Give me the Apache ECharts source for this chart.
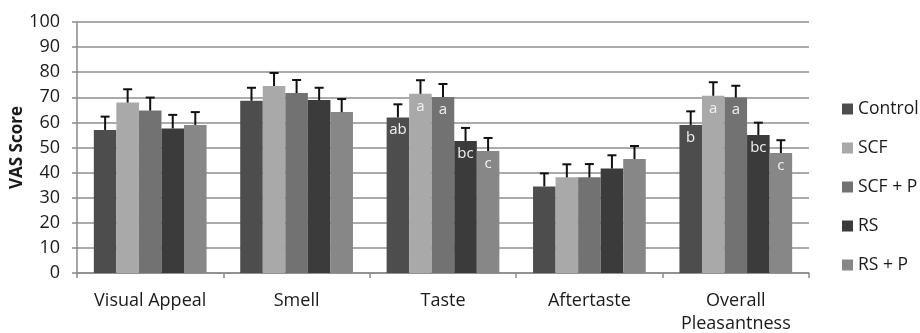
<!DOCTYPE html>
<html>
<head>
<meta charset="utf-8">
<script src="https://cdn.jsdelivr.net/npm/echarts@6/dist/echarts.min.js"></script>
<style>
  html, body { margin: 0; padding: 0; background: #fff; }
  #chart { width: 920px; height: 333px; }
</style>
</head>
<body>
<div id="chart"></div>
<script>
// Sensory attributes (x categories)
const categories = ['Visual Appeal', 'Smell', 'Taste', 'Aftertaste', 'Overall\nPleasantness'];
const seriesNames = ['Control', 'SCF', 'SCF + P', 'RS', 'RS + P'];

// Mean VAS scores per treatment
const control = [57.0, 68.6, 62.0, 34.5, 59.0];
const scf     = [67.9, 74.5, 71.4, 38.1, 70.6];
const scfP    = [64.7, 71.7, 70.1, 38.1, 69.9];
const rs      = [57.6, 68.9, 52.6, 41.6, 55.0];
const rsP     = [59.0, 64.1, 48.6, 45.4, 47.8];

// Error (upper whisker length) per treatment
const controlErr = [5.3, 5.2, 5.2, 5.2, 5.4];
const scfErr     = [5.3, 5.2, 5.4, 5.2, 5.4];
const scfPErr    = [5.2, 5.2, 5.2, 5.3, 4.7];
const rsErr      = [5.4, 4.9, 5.2, 5.3, 4.9];
const rsPErr     = [5.1, 5.2, 5.2, 5.2, 5.1];

// Significance letters shown inside bars
const controlLetters = ['', '', 'ab', '', 'b'];
const scfLetters     = ['', '', 'a', '', 'a'];
const scfPLetters    = ['', '', 'a', '', 'a'];
const rsLetters      = ['', '', 'bc', '', 'bc'];
const rsPLetters     = ['', '', 'c', '', 'c'];

// Y axis ticks
const yMin = 0, yMax = 100, yStep = 10;

const values = [control, scf, scfP, rs, rsP];
const errors = [controlErr, scfErr, scfPErr, rsErr, rsPErr];
const letters = [controlLetters, scfLetters, scfPLetters, rsLetters, rsPLetters];
const colors = ['#4d4d4d', '#a9a9a9', '#727272', '#3b3b3b', '#878787'];

const FONT = '"Open Sans", "DejaVu Sans", sans-serif';
const CAT_GAP = 0.23;

const barSeries = seriesNames.map((name, i) => ({
  name: name,
  type: 'bar',
  data: values[i],
  barGap: '0%',
  barCategoryGap: (CAT_GAP * 100) + '%',
  itemStyle: { color: colors[i] },
  label: {
    show: true,
    position: 'insideTop',
    distance: 5,
    color: '#f2f2f2',
    fontFamily: FONT,
    fontSize: 15,
    formatter: p => letters[i][p.dataIndex]
  },
  z: 2
}));

// Upper error whiskers, placed over the matching bar in each group
const errorSeries = seriesNames.map((name, i) => ({
  type: 'custom',
  name: name + ' err',
  data: values[i].map((v, k) => [k, v, v + errors[i][k]]),
  renderItem: function (params, api) {
    const k = api.value(0);
    const base = api.coord([k, api.value(1)]);
    const top = api.coord([k, api.value(2)]);
    const catW = api.size([1, 0])[0];
    const bw = catW * (1 - CAT_GAP) / seriesNames.length;
    const x = base[0] + (i - (seriesNames.length - 1) / 2) * bw;
    const half = 4.5;
    const style = { stroke: '#111', lineWidth: 2 };
    return {
      type: 'group',
      children: [
        { type: 'line', shape: { x1: x, y1: base[1], x2: x, y2: top[1] }, style: style },
        { type: 'line', shape: { x1: x - half, y1: top[1], x2: x + half, y2: top[1] }, style: style }
      ]
    };
  },
  z: 5,
  silent: true
}));

const chart = echarts.init(document.getElementById('chart'));
chart.setOption({
  animation: false,
  backgroundColor: '#fff',
  grid: { left: 77, right: 111, top: 22, bottom: 60, containLabel: false, outerBoundsMode: 'none' },
  legend: {
    data: seriesNames,
    orient: 'vertical',
    left: 842,
    top: 100,
    padding: 0,
    itemWidth: 11,
    itemHeight: 11,
    itemGap: 21,
    icon: 'rect',
    textStyle: { fontFamily: FONT, fontSize: 17.5, color: '#1a1a1a', lineHeight: 16 }
  },
  xAxis: {
    type: 'category',
    data: categories,
    axisLine: { lineStyle: { color: '#8a8a8a', width: 1.5 } },
    axisTick: { show: true, length: 5, lineStyle: { color: '#8a8a8a', width: 1.5 } },
    axisLabel: { interval: 0, hideOverlap: false, fontFamily: FONT, fontSize: 18, color: '#1a1a1a', margin: 16, lineHeight: 23 }
  },
  yAxis: {
    type: 'value',
    min: yMin,
    max: yMax,
    interval: yStep,
    name: 'VAS Score',
    nameLocation: 'middle',
    nameGap: 50,
    nameMoveOverlap: false,
    nameTextStyle: { fontFamily: FONT, fontSize: 17, fontWeight: 'bold', color: '#1a1a1a', lineHeight: 20 },
    axisLine: { show: true, lineStyle: { color: '#8a8a8a', width: 1.5 } },
    axisTick: { show: true, length: 5, lineStyle: { color: '#8a8a8a', width: 1.5 } },
    axisLabel: { fontFamily: FONT, fontSize: 18, color: '#1a1a1a', margin: 17 },
    splitLine: { lineStyle: { color: '#8f8f8f', width: 1.5 } }
  },
  series: barSeries.concat(errorSeries)
});
</script>
</body>
</html>
